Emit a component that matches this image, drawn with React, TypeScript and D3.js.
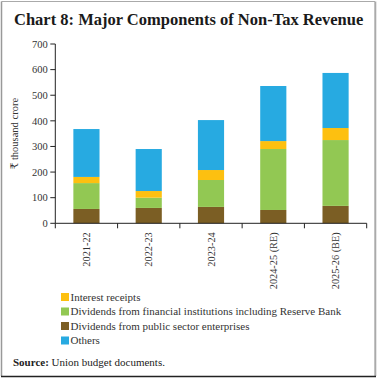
import React from "react";
import * as d3 from "d3";

const categories = ["2021-22", "2022-23", "2023-24", "2024-25 (RE)", "2025-26 (BE)"];
const psuDividends = [56, 60, 64, 52, 68];
const financialDividends = [101, 40, 105, 238, 257];
const interestReceipts = [24, 26, 39, 31, 47];
const others = [187, 164, 195, 215, 215];
const yTicks = [0, 100, 200, 300, 400, 500, 600, 700];

const seriesKeys = ["psu", "fin", "int", "oth"];
const seriesColors: Record<string, string> = {
  psu: "#7B5E24",
  fin: "#92C853",
  int: "#FDC010",
  oth: "#27AAE1",
};
const legendItems = [
  { key: "int", label: "Interest receipts" },
  { key: "fin", label: "Dividends from financial institutions including Reserve Bank" },
  { key: "psu", label: "Dividends from public sector enterprises" },
  { key: "oth", label: "Others" },
];

const FONT = "'Liberation Serif', 'DejaVu Serif', serif";

export default function App() {
  const W = 378, H = 378;
  const x0 = 55.3, x1 = 366.7;
  const yTop = 44, yBot = 223.3;

  const rows = categories.map((c, i) => ({
    cat: c,
    psu: psuDividends[i],
    fin: financialDividends[i],
    int: interestReceipts[i],
    oth: others[i],
  }));
  const stacked = d3.stack<any>().keys(seriesKeys)(rows);

  const x = d3.scaleBand<string>().domain(categories).range([x0, x1]).paddingInner(0.58).paddingOuter(0.29);
  const y = d3.scaleLinear().domain([0, 700]).range([yBot, yTop]);
  const step = x.step();
  const boundaries = d3.range(categories.length + 1).map((i) => x0 + i * step);

  return (
    <svg width={W} height={H} style={{ position: "absolute", left: 0, top: 0, background: "#fff" }} fontFamily={FONT}>
      <rect x={0} y={0} width={W} height={H} fill="#fff" />
      {/* frame */}
      <line x1={1.5} y1={1.5} x2={375} y2={1.5} stroke="#aaa" strokeWidth={1} />
      <line x1={1.5} y1={1.5} x2={1.5} y2={376} stroke="#999" strokeWidth={1.5} />
      <line x1={375.3} y1={1.5} x2={375.3} y2={376} stroke="#aaa" strokeWidth={2} />
      <line x1={1} y1={376.5} x2={376} y2={376.5} stroke="#222" strokeWidth={1.5} />

      <text x={14} y={25} fontSize={16.5} fontWeight="bold" fill="#1a1a1a">
        Chart 8: Major Components of Non-Tax Revenue
      </text>

      {/* bars */}
      {stacked.map((s) => (
        <g key={s.key} fill={seriesColors[s.key]}>
          {s.map((d, i) => (
            <rect
              key={i}
              x={x(categories[i])}
              width={x.bandwidth()}
              y={y(d[1])}
              height={y(d[0]) - y(d[1])}
            />
          ))}
        </g>
      ))}

      {/* y axis */}
      <line x1={x0} y1={yTop} x2={x0} y2={yBot} stroke="#222" strokeWidth={1} />
      {yTicks.map((t) => (
        <g key={t}>
          <line x1={x0 - 5} x2={x0} y1={y(t)} y2={y(t)} stroke="#222" strokeWidth={1} />
          <text x={x0 - 7.5} y={y(t)} dy="0.35em" textAnchor="end" fontSize={10.5} fill="#333">
            {t}
          </text>
        </g>
      ))}
      <text
        transform={`translate(18, ${(yTop + yBot) / 2}) rotate(-90)`}
        textAnchor="middle"
        fontSize={10.5}
        fill="#333"
      >
        ₹ thousand crore
      </text>

      {/* x axis */}
      <line x1={x0} y1={yBot} x2={x1} y2={yBot} stroke="#222" strokeWidth={1} />
      {boundaries.map((b, i) => (
        <line key={i} x1={b} x2={b} y1={yBot} y2={yBot + 5} stroke="#222" strokeWidth={1} />
      ))}
      {categories.map((c) => (
        <text
          key={c}
          transform={`translate(${(x(c) as number) + x.bandwidth() / 2 + 3.5}, ${yBot + 9}) rotate(-90)`}
          textAnchor="end"
          fontSize={10.3}
          fill="#333"
        >
          {c}
        </text>
      ))}

      {/* legend */}
      {legendItems.map((l, i) => (
        <g key={l.key} transform={`translate(61, ${297 + i * 14.5})`}>
          <rect x={0} y={-4} width={8} height={8} fill={seriesColors[l.key]} />
          <text x={9.5} y={0} dy="0.35em" fontSize={11} fill="#333">
            {l.label}
          </text>
        </g>
      ))}

      <text x={13} y={366} fontSize={11} fill="#222">
        <tspan fontWeight="bold">Source:</tspan> Union budget documents.
      </text>
    </svg>
  );
}
